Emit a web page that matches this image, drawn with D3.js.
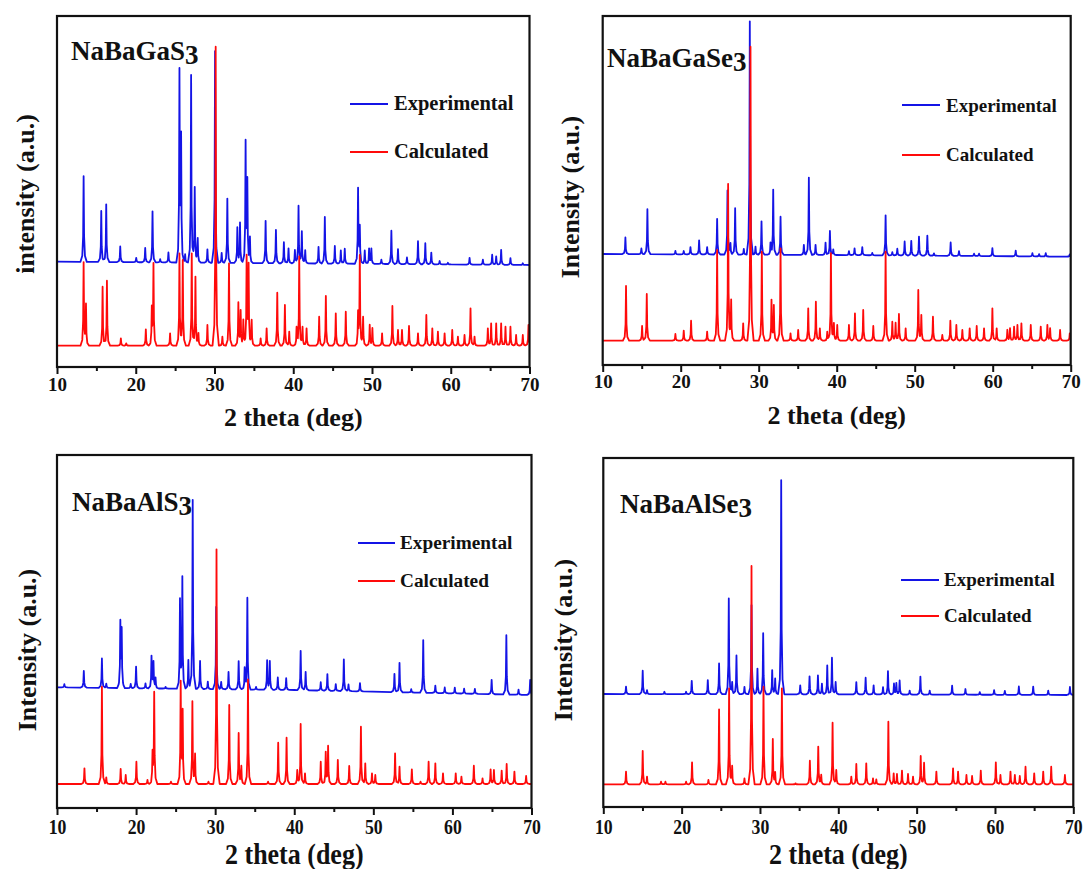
<!DOCTYPE html>
<html><head><meta charset="utf-8">
<script src="https://cdn.jsdelivr.net/npm/d3@7/dist/d3.min.js"></script>
<style>
html,body{margin:0;padding:0;background:#fff;}
text{font-family:"Liberation Serif","Times New Roman",serif;font-weight:bold;fill:#111;}
</style></head>
<body><svg id="c" width="1084" height="869"></svg>
<script>
// ---------------- DATA (2theta in deg, intensity in arb. units) ----------------
const xTickValues = [10, 20, 30, 40, 50, 60, 70];
const xMinorTickValues = [15, 25, 35, 45, 55, 65];
const legendLabels = ["Experimental", "Calculated"];
const titles = ["NaBaGaS", "NaBaGaSe", "NaBaAlS", "NaBaAlSe"];
const titleSubscripts = ["3", "3", "3", "3"];
const yLabels = ["intensity (a.u.)", "Intensity (a.u.)", "Intensity (a.u.)", "Intensity (a.u.)"];
const xLabel = "2 theta (deg)";

// offsets of experimental pattern above calculated one
const expOffsets = [252, 260, 287, 271];
// slow background drift of experimental patterns [2theta, delta]
const p1ExpDrift = [[10, 0], [40, -5], [70, -10]];
const p2ExpDrift = [[10, 0], [40, -3], [70, -8]];
const p3ExpDrift = [[10, 3], [40, -5], [70, -20]];
const p4ExpDrift = [[10, 0], [40, -1], [70, -3]];

const p1Exp = [[13.38,257],[15.62,153],[16.25,173],[18.03,47],[20.06,13],[21.2,43],[22.13,153],[23.1,10],[24.15,30],[25.55,563],[25.76,361],[26.27,25],[27.03,563],[27.49,227],[27.87,73],[29.1,40],[30.07,635],[30.91,30],[31.63,193],[32.9,105],[33.24,120],[33.95,357],[34.17,237],[34.5,75],[36.49,127],[37.8,100],[38.81,63],[39.4,45],[40.21,40],[40.67,173],[41.09,97],[41.52,40],[43.21,50],[44.01,140],[45.28,53],[46.04,40],[46.54,45],[48.23,223],[48.45,105],[49.08,40],[49.63,45],[49.92,45],[51.19,13],[52.46,100],[53.3,45],[54.44,20],[55.84,69],[56.77,63],[57.53,35],[58.59,10],[59.64,5],[62.39,20],[64.08,15],[65.26,30],[65.77,25],[66.4,45],[67.58,20],[69.15,5]];
const p1Calc = [[13.38,247],[13.68,119],[15.79,177],[16.34,195],[18.11,22],[18.79,7],[21.28,49],[22.04,107],[22.25,242],[24.36,37],[25.55,277],[25.97,257],[27.11,277],[27.58,207],[27.96,37],[29.1,62],[30.15,897],[31.0,27],[31.84,247],[33.03,127],[33.32,102],[33.66,77],[34.08,262],[34.33,237],[34.72,77],[35.86,22],[36.62,52],[37.97,159],[38.94,122],[39.49,42],[40.42,52],[40.76,267],[41.18,57],[41.69,52],[43.29,87],[44.14,149],[45.4,97],[46.67,102],[48.23,92],[48.45,267],[48.87,87],[49.71,62],[50.05,52],[51.28,37],[52.59,119],[53.3,47],[53.81,47],[54.7,59],[55.84,37],[56.9,92],[57.66,52],[58.37,42],[59.22,37],[60.19,47],[60.91,27],[61.75,32],[62.51,112],[63.02,27],[64.71,52],[65.13,67],[65.77,67],[66.4,67],[66.95,57],[67.58,57],[68.3,32],[69.15,32],[69.87,62]];

const p2Exp = [[12.91,50],[14.96,17],[15.73,135],[19.32,10],[20.39,10],[21.25,22],[22.36,42],[23.39,22],[24.67,107],[26.0,192],[26.38,34],[26.98,139],[28.09,17],[28.86,700],[29.59,24],[30.36,100],[31.51,34],[31.86,195],[32.8,114],[35.79,30],[36.43,232],[37.29,30],[38.57,37],[39.13,72],[39.56,17],[41.57,12],[42.29,20],[43.28,24],[44.56,7],[46.27,120],[47.13,10],[47.77,20],[48.71,42],[49.56,44],[50.55,57],[51.62,60],[52.47,7],[54.61,40],[55.68,14],[57.61,7],[58.25,7],[59.96,24],[62.95,17],[65.09,10],[65.95,7],[66.8,10],[69.88,7]];
const p2Calc = [[12.99,164],[15.05,44],[15.65,140],[19.32,20],[20.39,30],[21.33,60],[23.39,27],[24.67,272],[26.08,470],[26.47,122],[28.01,52],[28.95,882],[30.4,267],[31.64,120],[31.94,104],[32.8,277],[34.08,22],[35.06,32],[36.35,97],[37.33,117],[37.84,37],[38.79,27],[39.26,262],[39.64,52],[40.07,47],[41.57,47],[42.34,82],[43.4,92],[44.69,44],[46.27,267],[47.13,57],[47.55,54],[47.98,80],[48.84,37],[50.46,152],[50.85,77],[52.34,72],[53.54,17],[54.57,60],[55.34,47],[56.11,32],[57.05,37],[57.95,44],[58.89,37],[59.96,97],[60.51,37],[61.88,32],[62.22,37],[62.74,42],[63.17,47],[63.68,52],[64.88,47],[66.16,42],[67.01,47],[67.36,37],[68.64,32],[69.88,22]];

const p3Exp = [[10.93,10],[13.39,50],[15.68,88],[16.23,13],[18.01,193],[18.18,170],[19.32,13],[20.0,65],[21.19,15],[21.95,95],[22.2,77],[22.46,30],[23.73,5],[25.55,262],[25.85,330],[26.61,87],[27.16,567],[28.09,84],[29.07,22],[30.13,247],[30.76,22],[31.69,52],[32.97,85],[33.73,62],[34.07,274],[35.17,8],[36.57,87],[36.91,85],[37.92,37],[38.98,35],[40.81,118],[41.44,55],[43.35,25],[44.19,50],[45.25,20],[46.27,95],[46.86,20],[48.31,25],[52.67,55],[53.31,88],[54.79,10],[56.31,158],[57.84,22],[59.03,17],[60.3,17],[61.48,15],[62.84,15],[64.96,43],[66.82,178],[68.36,15],[69.83,45]];
const p3Calc = [[13.47,47],[15.68,292],[16.23,20],[18.05,45],[18.69,27],[20.04,67],[21.44,12],[22.08,87],[22.29,272],[24.41,7],[25.64,300],[25.89,212],[27.12,247],[27.46,87],[29.15,7],[30.17,704],[31.78,237],[32.97,152],[33.31,52],[34.15,314],[36.69,7],[37.97,124],[39.03,139],[40.38,42],[40.81,180],[41.36,32],[43.35,67],[43.98,94],[44.28,112],[45.51,72],[46.95,54],[48.43,172],[48.98,62],[49.83,32],[50.25,27],[52.75,92],[53.31,52],[54.87,44],[55.97,7],[56.99,67],[57.84,62],[58.81,32],[60.42,32],[61.14,22],[62.71,55],[63.81,17],[64.83,44],[65.25,42],[66.23,40],[66.86,60],[67.84,37],[69.32,24]];

const p4Exp = [[12.9,22],[15.03,70],[15.58,12],[17.8,7],[20.57,7],[21.29,40],[23.34,42],[24.78,92],[26.02,287],[26.45,37],[27.0,116],[28.02,22],[28.92,267],[29.68,77],[30.41,183],[31.56,72],[31.94,47],[32.71,642],[35.14,27],[36.33,54],[37.4,57],[37.91,32],[38.59,87],[39.19,110],[39.66,37],[42.3,37],[43.49,50],[44.51,27],[45.71,22],[46.34,70],[47.11,32],[47.41,34],[47.83,42],[49.11,12],[50.48,54],[51.67,12],[54.53,27],[56.23,17],[58.06,8],[59.89,14],[61.26,12],[63.05,25],[64.88,25],[66.8,13],[69.57,24]];
const p4Calc = [[12.9,38],[15.03,100],[15.58,23],[17.37,8],[17.93,8],[20.57,8],[21.33,66],[23.42,13],[24.78,225],[26.06,288],[26.45,55],[28.02,18],[28.92,655],[30.45,293],[31.64,135],[31.94,33],[32.8,288],[34.54,3],[36.37,71],[37.44,113],[37.82,28],[39.27,185],[39.74,43],[41.66,23],[42.3,61],[43.57,63],[44.43,18],[44.85,15],[46.39,188],[47.07,33],[47.49,31],[48.13,41],[48.9,31],[49.54,23],[50.52,85],[50.95,65],[52.52,38],[54.65,48],[55.29,38],[56.36,28],[57.08,25],[58.19,41],[60.11,66],[60.7,28],[61.98,38],[62.54,28],[63.17,25],[63.9,53],[65.01,33],[66.16,38],[67.18,53],[68.93,28]];

// ---------------- LAYOUT ----------------
const panels = [
  {x0:57, x1:529.5, y0:16, y1:367, yDom:[-64,989], exp:p1Exp, calc:p1Calc, drift:p1ExpDrift,
   title:[71,60], leg:[350,388,104,394,110, 152,158, 20.5], ylab:[34,194], tickBase:391, xlabBase:426, sy:1},
  {x0:602.7, x1:1070.7, y0:16, y1:365, yDom:[-73,974], exp:p2Exp, calc:p2Calc, drift:p2ExpDrift,
   title:[607,67], leg:[902,940,105,946,112, 155,161, 19], ylab:[579,197], tickBase:388, xlabBase:424, sy:1},
  {x0:57, x1:531.5, y0:455, y1:808, yDom:[-72,987], exp:p3Exp, calc:p3Calc, drift:p3ExpDrift,
   title:[72,511], leg:[358,395,543,400,549, 581,587, 19.3], ylab:[36,650], tickBase:834, xlabBase:864, sy:1.15},
  {x0:603.3, x1:1073.3, y0:458, y1:807, yDom:[-68,979], exp:p4Exp, calc:p4Calc, drift:p4ExpDrift,
   title:[620,513], leg:[901,939,580,944,586, 616,622, 19], ylab:[572,640], tickBase:834, xlabBase:864, sy:1.15}
];
const shapeDx = [-0.4,-0.17,-0.06,0,0.06,0.17,0.4];
const shapeFr = [0,0.07,0.3,1,0.3,0.07,0];
const colExp = "#1414e6", colCalc = "#ff0a0a";

function interp(xs, ys, x){
  if (x <= xs[0]) return ys[0];
  if (x >= xs[xs.length-1]) return ys[ys.length-1];
  for (let i=1;i<xs.length;i++){ if (x<=xs[i]) { const t=(x-xs[i-1])/(xs[i]-xs[i-1]); return ys[i-1]+t*(ys[i]-ys[i-1]); } }
  return ys[ys.length-1];
}
function profile(peaks, offset, drift){
  const set = new Set([10, 70]);
  peaks.forEach(p => shapeDx.forEach(d => { const v=+(p[0]+d).toFixed(3); if (v>=10 && v<=70) set.add(v); }));
  if (drift) drift.forEach(d => set.add(d[0]));
  const xs = Array.from(set).sort((a,b)=>a-b);
  const dx = drift ? drift.map(d=>d[0]) : [10,70], dy = drift ? drift.map(d=>d[1]) : [0,0];
  return xs.map(x => {
    let y = offset + interp(dx, dy, x);
    peaks.forEach(p => { const r = x - p[0]; if (r > shapeDx[0] && r < shapeDx[6]) y += p[1]*interp(shapeDx, shapeFr, r); });
    return [x, y];
  });
}

const svg = d3.select("#c");
panels.forEach((P, i) => {
  const x = d3.scaleLinear().domain([10,70]).range([P.x0, P.x1]);
  const y = d3.scaleLinear().domain(P.yDom).range([P.y1, P.y0]);
  const g = svg.append("g");
  const cid = "clip"+i;
  g.append("clipPath").attr("id", cid).append("rect")
    .attr("x", P.x0).attr("y", P.y0).attr("width", P.x1-P.x0).attr("height", P.y1-P.y0);
  const line = d3.line().x(d=>x(d[0])).y(d=>y(d[1]));
  g.append("path").attr("d", line(profile(P.exp, expOffsets[i], P.drift)))
    .attr("fill","none").attr("stroke",colExp).attr("stroke-width",1.8).attr("stroke-linejoin","round")
    .attr("clip-path",`url(#${cid})`);
  g.append("path").attr("d", line(profile(P.calc, 0, null)))
    .attr("fill","none").attr("stroke",colCalc).attr("stroke-width",1.8).attr("stroke-linejoin","round")
    .attr("clip-path",`url(#${cid})`);
  // frame
  g.append("rect").attr("x",P.x0).attr("y",P.y0).attr("width",P.x1-P.x0).attr("height",P.y1-P.y0)
    .attr("fill","none").attr("stroke","#111").attr("stroke-width",2.2);
  // x axis
  const ax = g.append("g").attr("transform",`translate(0,${P.y1})`)
    .call(d3.axisBottom(x).tickValues(xTickValues).tickSize(7).tickFormat(d3.format("d")));
  ax.select(".domain").remove();
  ax.selectAll(".tick line").attr("stroke","#111").attr("stroke-width",2);
  ax.selectAll(".tick text").attr("font-size",19).attr("y", (P.tickBase - P.y1)/P.sy).attr("dy",0)
    .attr("transform",`scale(${1/Math.sqrt(P.sy)},${P.sy})`)
    .style("font-family","'Liberation Serif',serif").style("font-weight","bold").attr("fill","#111");
  const axm = g.append("g").attr("transform",`translate(0,${P.y1})`)
    .call(d3.axisBottom(x).tickValues(xMinorTickValues).tickSize(4).tickFormat(""));
  axm.select(".domain").remove();
  axm.selectAll(".tick line").attr("stroke","#111").attr("stroke-width",2);
  // x label
  g.append("text").attr("transform",`translate(${(P.x0+P.x1)/2},${P.xlabBase}) scale(1,${P.sy})`)
    .attr("text-anchor","middle").attr("font-size",26).text(xLabel);
  // y label
  g.append("text").attr("transform",`translate(${P.ylab[0]},${P.ylab[1]}) rotate(-90)`)
    .attr("text-anchor","middle").attr("font-size",26).text(yLabels[i]);
  // title
  const t = g.append("text").attr("x",P.title[0]).attr("y",P.title[1]).attr("font-size",27);
  t.append("tspan").text(titles[i]);
  t.append("tspan").attr("dy",4).text(titleSubscripts[i]);
  // legend
  const L = P.leg;
  [[colExp, L[2], L[4]], [colCalc, L[5], L[6]]].forEach((e, k) => {
    g.append("line").attr("x1",L[0]).attr("x2",L[1]).attr("y1",e[1]).attr("y2",e[1])
      .attr("stroke",e[0]).attr("stroke-width",2.2);
    g.append("text").attr("x",L[3]).attr("y",e[2]).attr("font-size",L[7]).text(legendLabels[k]);
  });
});
</script></body></html>
